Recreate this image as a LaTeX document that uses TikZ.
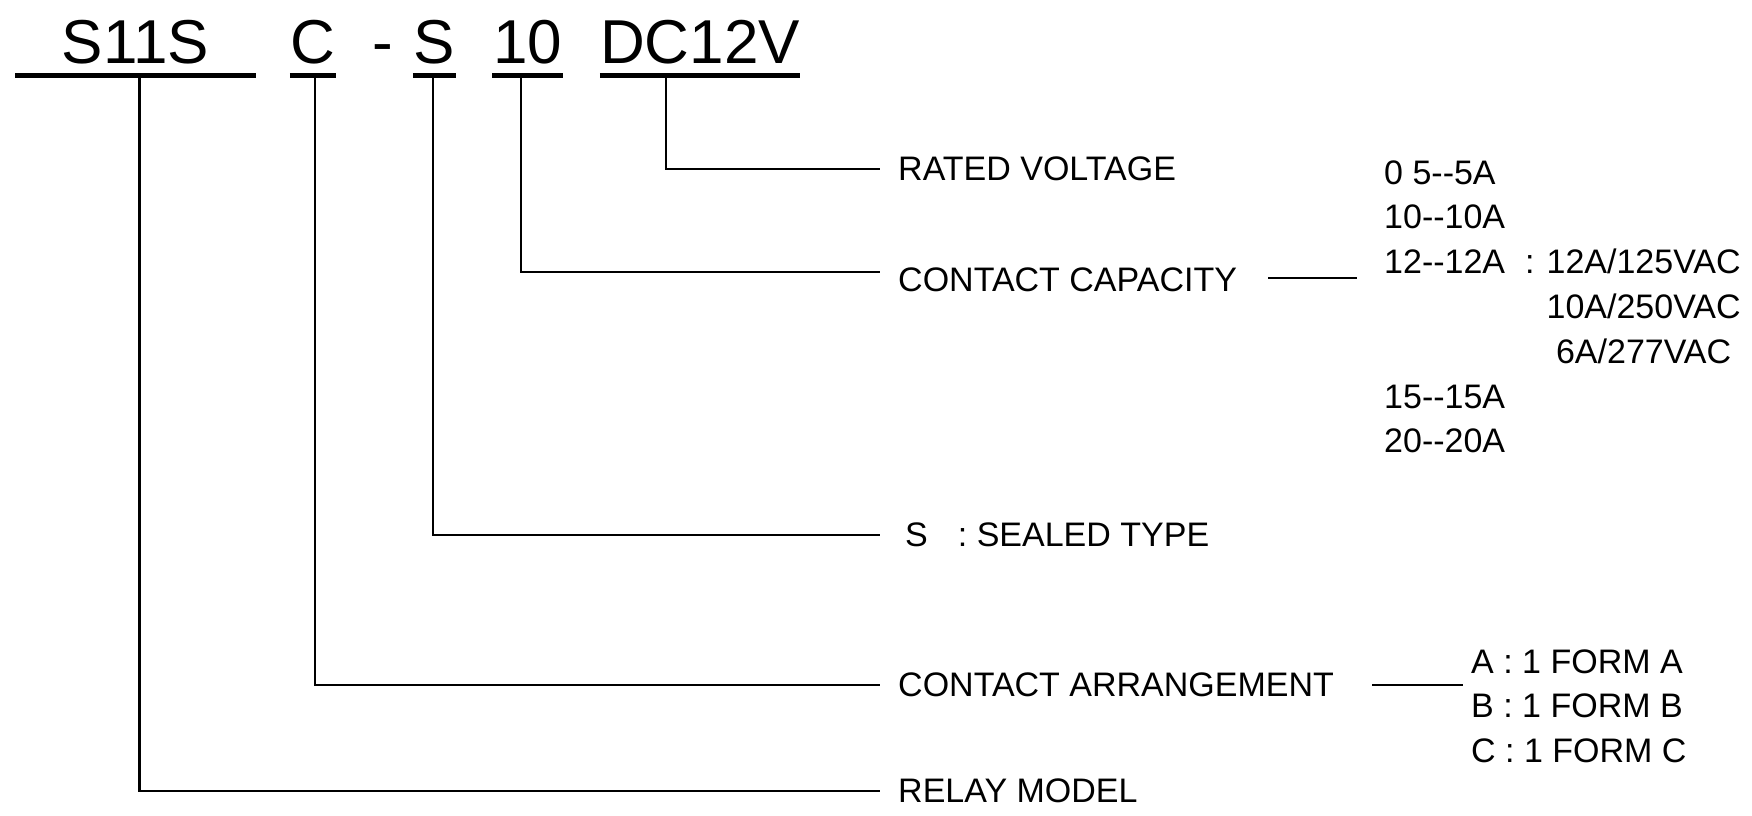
\documentclass[tikz,border=0pt]{standalone}
\usepackage{fontspec}
\usepackage{tikz}
\newfontfamily\relayfont{Liberation Sans}
\newcommand{\partfont}{\relayfont\fontsize{62}{70}\selectfont}
\newcommand{\descfont}{\relayfont\fontsize{34}{44.8}\selectfont}

\begin{document}
\begin{tikzpicture}[
x=1pt,
y=-1pt,
part/.style={
font=\partfont,
inner sep=0pt,
text depth=11.5pt,
anchor=base
},
desc/.style={
font=\descfont,
inner xsep=18pt,
inner ysep=0pt,
anchor=west
},
vals/.style={
font=\descfont,
inner sep=0pt,
anchor=base west
},
uline/.style={line width=4.7pt},
conn/.style={line width=2.4pt}
]

\useasboundingbox[fill=white] (0,0) rectangle (1752,815);

%%%%%%%%%%%%%%%%%%%%%%%%%%%%%%%%%%%%
% Part Number
%%%%%%%%%%%%%%%%%%%%%%%%%%%%%%%%%%%%

\node[part,minimum width=240pt] (model) at (135.5,63.5) {S11S};

\node[part,minimum width=46pt] (arr) at (313,63.5) {C};

\node[part] (hyph) at (383,63.5) {-};

\node[part,minimum width=43pt] (seal) at (434.5,63.5) {S};

\node[part,minimum width=70pt] (cap) at (527.5,63.5) {10};

\node[part,minimum width=200pt] (volt) at (700,63.5) {DC12V};

\foreach \n in {model,arr,seal,cap,volt}
\draw[uline] (\n.south west)--(\n.south east);

%%%%%%%%%%%%%%%%%%%%%%%%%%%%%%%%%%%%
% Descriptions
%%%%%%%%%%%%%%%%%%%%%%%%%%%%%%%%%%%%

\node[desc] (rated) at (880,169) {RATED VOLTAGE};

\node[desc] (capacity) at (880,280) {CONTACT CAPACITY};

\node[desc] (sealed) at (880,535) {\hspace{7pt}S\hspace{30pt}: SEALED TYPE};

\node[desc] (arrange) at (880,685) {CONTACT ARRANGEMENT};

\node[desc] (relay) at (880,791) {RELAY MODEL};

%%%%%%%%%%%%%%%%%%%%%%%%%%%%%%%%%%%%
% Options
%%%%%%%%%%%%%%%%%%%%%%%%%%%%%%%%%%%%

\node[vals] (capvals) at (1384,184)
{\begin{tabular}[t]{@{}l@{\hspace{20pt}}l@{\hspace{12pt}}c@{}}
0 5--5A & & \\
10--10A & & \\
12--12A & : & 12A/125VAC\\
 & & 10A/250VAC\\
 & & 6A/277VAC\\
15--15A & & \\
20--20A & &
\end{tabular}};

\node[vals] (arrvals) at (1471,673)
{\begin{tabular}[t]{@{}l@{}}
A : 1 FORM A\\
B : 1 FORM B\\
C : 1 FORM C
\end{tabular}};

%%%%%%%%%%%%%%%%%%%%%%%%%%%%%%%%%%%%
% Connections
%%%%%%%%%%%%%%%%%%%%%%%%%%%%%%%%%%%%

\draw[conn] ([xshift=-34pt]volt.south) |- (rated.west);

\draw[conn] ([xshift=-6.5pt]cap.south) |- ([yshift=8pt]capacity.west);

\draw[conn] ([xshift=-1.5pt]seal.south) |- (sealed.west);

\draw[conn] ([xshift=2pt]arr.south) |- (arrange.west);

\draw[conn] ([xshift=4pt]model.south) |- (relay.west);

\draw[conn] ([xshift=13pt,yshift=2pt]capacity.east)--([xshift=-27pt,yshift=2pt]capacity.east -| capvals.west);

\draw[conn] ([xshift=20pt]arrange.east)--([xshift=-8pt]arrange.east -| arrvals.west);

\end{tikzpicture}
\end{document}
